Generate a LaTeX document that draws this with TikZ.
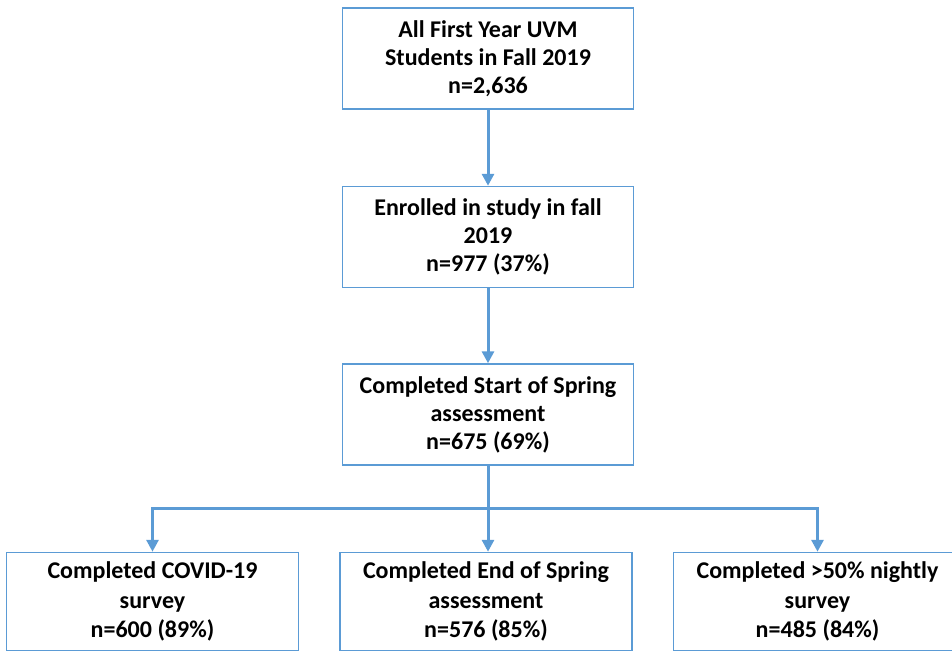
\documentclass[tikz,border=0pt]{standalone}
\usepackage{fontspec}
\setmainfont{Carlito}
\usepackage{tikz}
\usetikzlibrary{arrows.meta, positioning}
\definecolor{officeblue}{HTML}{5B9BD5}
\tikzstyle{stage} = [rectangle, draw=officeblue, line width=1.5pt, fill=white, text=black, minimum width=291pt, minimum height=101pt, align=center, font=\bfseries\fontsize{24}{28}\selectfont, inner sep=3pt]
\tikzstyle{outcome} = [stage, minimum width=292pt, minimum height=98pt, font=\bfseries\fontsize{24}{29.5}\selectfont]
\tikzstyle{link} = [line width=3pt, color=officeblue]
\tikzstyle{flow} = [link, -{Triangle[length=12pt, width=12pt]}]

\begin{document}
\begin{tikzpicture}[node distance=75pt and 40pt]

\useasboundingbox (0pt,0pt) rectangle (952pt,-650pt);

\node (all) [stage] at (488pt,-58.5pt) {All First Year UVM\\Students in Fall 2019\\n=2,636};
\node (enrolled) [stage, below=76pt of all] {Enrolled in study in fall\\2019\\n=977 (37\%)};
\node (start) [stage, below=of enrolled] {Completed Start of Spring\\assessment\\n=675 (69\%)};
\coordinate [below=43pt of start.south] (fork);

\node (endspring) [outcome, below=86pt of start, xshift=-2pt] {Completed End of Spring\\assessment\\n=576 (85\%)};
\node (nightly) [outcome, right=of endspring, minimum width=288pt] {Completed >50\% nightly\\survey\\n=485 (84\%)};
\node (covid) [outcome, left=of endspring] {Completed COVID-19\\survey\\n=600 (89\%)};

\draw[flow] (all) -- (enrolled);
\draw[flow] (enrolled) -- (start);
\draw[link] (start) -- (fork);
\draw[flow] (fork) -| (covid.north);
\draw[flow] (fork) -- (fork |- endspring.north);
\draw[flow] (fork) -| (nightly.north);

\end{tikzpicture}
\end{document}
